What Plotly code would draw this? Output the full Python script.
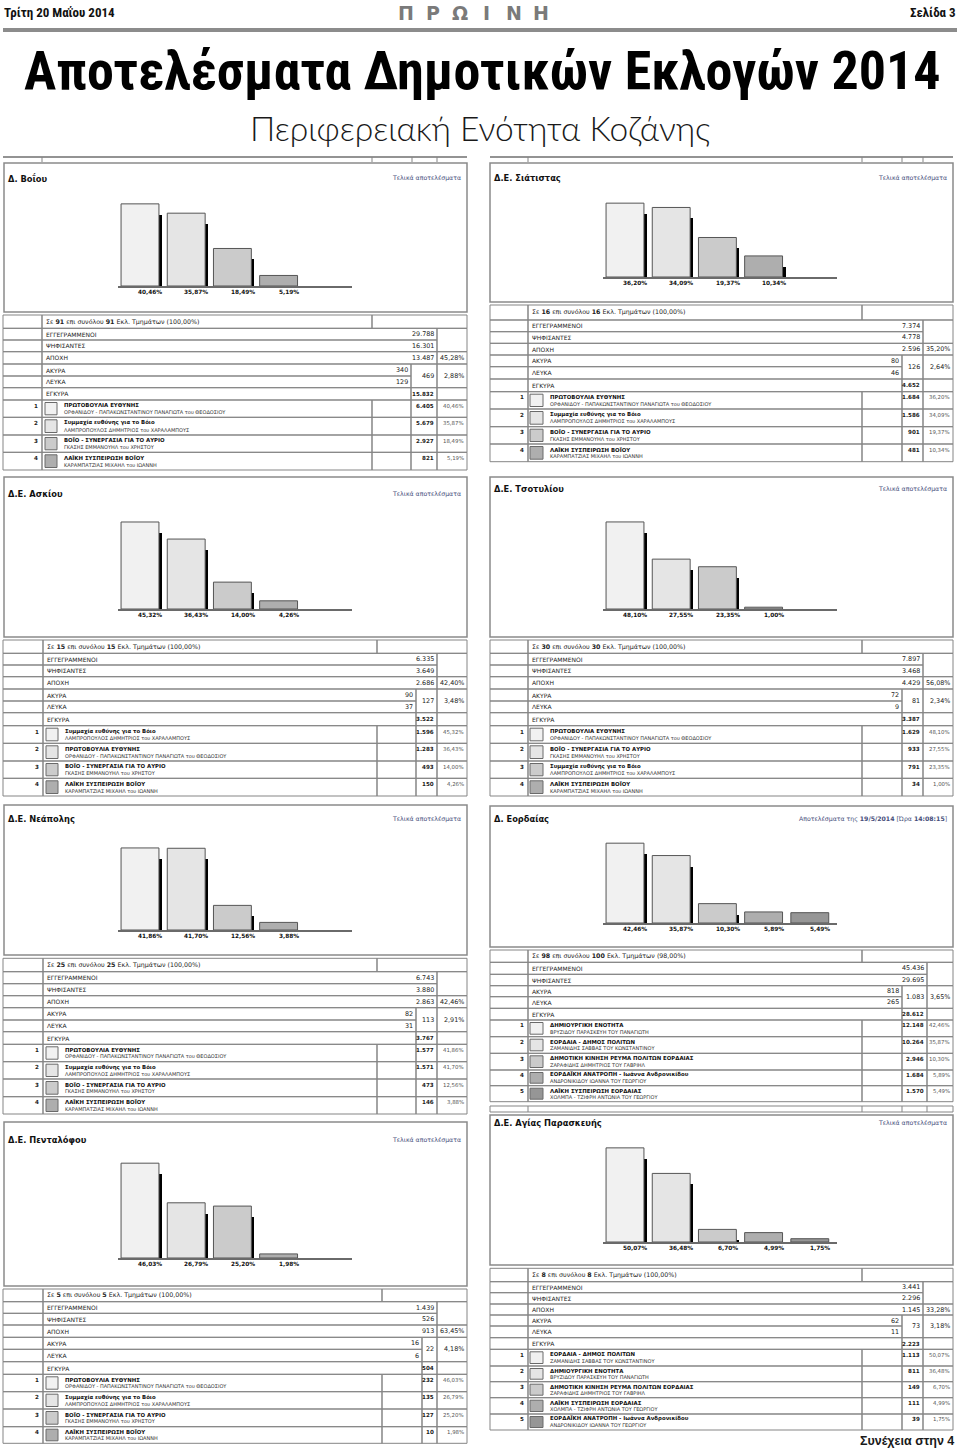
import plotly.graph_objects as go

W, H = 960, 1448

# ---------------- DATA ----------------
STAT_LABELS = ["ΕΓΓΕΓΡΑΜΜΕΝΟΙ", "ΨΗΦΙΣΑΝΤΕΣ", "ΑΠΟΧΗ", "ΑΚΥΡΑ", "ΛΕΥΚΑ", "ΕΓΚΥΡΑ"]

PROTO = "ΠΡΩΤΟΒΟΥΛΙΑ ΕΥΘΥΝΗΣ"
PROTO_C = "ΟΡΦΑΝΙΔΟΥ - ΠΑΠΑΚΩΝΣΤΑΝΤΙΝΟΥ ΠΑΝΑΓΙΩΤΑ του ΘΕΟΔΟΣΙΟΥ"
SYMM = "Συμμαχία ευθύνης για το Βόιο"
SYMM_C = "ΛΑΜΠΡΟΠΟΥΛΟΣ ΔΗΜΗΤΡΙΟΣ του ΧΑΡΑΛΑΜΠΟΥΣ"
SYNE = "ΒΟΪΟ - ΣΥΝΕΡΓΑΣΙΑ ΓΙΑ ΤΟ ΑΥΡΙΟ"
SYNE_C = "ΓΚΑΣΗΣ ΕΜΜΑΝΟΥΗΛ του ΧΡΗΣΤΟΥ"
LAIKI_V = "ΛΑΪΚΗ ΣΥΣΠΕΙΡΩΣΗ ΒΟΪΟΥ"
LAIKI_V_C = "ΚΑΡΑΜΠΑΤΖΙΑΣ ΜΙΧΑΗΛ του ΙΩΑΝΝΗ"
DIMI = "ΔΗΜΙΟΥΡΓΙΚΗ ΕΝΟΤΗΤΑ"
DIMI_C = "ΒΡΥΖΙΔΟΥ ΠΑΡΑΣΚΕΥΗ ΤΟΥ ΠΑΝΑΓΙΩΤΗ"
EORD = "ΕΟΡΔΑΙΑ - ΔΗΜΟΣ ΠΟΛΙΤΩΝ"
EORD_C = "ΖΑΜΑΝΙΔΗΣ ΣΑΒΒΑΣ ΤΟΥ ΚΩΝΣΤΑΝΤΙΝΟΥ"
REYMA = "ΔΗΜΟΤΙΚΗ ΚΙΝΗΣΗ ΡΕΥΜΑ ΠΟΛΙΤΩΝ ΕΟΡΔΑΙΑΣ"
REYMA_C = "ΖΑΡΑΦΙΔΗΣ ΔΗΜΗΤΡΙΟΣ ΤΟΥ ΓΑΒΡΙΗΛ"
ANAT = "ΕΟΡΔΑΪΚΗ ΑΝΑΤΡΟΠΗ - Ιωάννα Ανδρονικίδου"
ANAT_C = "ΑΝΔΡΟΝΙΚΙΔΟΥ ΙΩΑΝΝΑ ΤΟΥ ΓΕΩΡΓΙΟΥ"
LAIKI_E = "ΛΑΪΚΗ ΣΥΣΠΕΙΡΩΣΗ ΕΟΡΔΑΙΑΣ"
LAIKI_E_C = "ΧΟΛΜΠΑ - ΤΖΙΦΡΗ ΑΝΤΩΝΙΑ ΤΟΥ ΓΕΩΡΓΙΟΥ"

# stats: registered, voted, abstention, abstention %, invalid, blank, invalid+blank, inv+blank %, valid
VOIO_TITLE = "Δ. Βοΐου"
VOIO_SECT = [91, 91, 100.00]
VOIO_STATS = [29788, 16301, 13487, 45.28, 340, 129, 469, 2.88, 15832]
VOIO_PARTIES = [PROTO, SYMM, SYNE, LAIKI_V]
VOIO_CANDS = [PROTO_C, SYMM_C, SYNE_C, LAIKI_V_C]
VOIO_VOTES = [6405, 5679, 2927, 821]
VOIO_PCT = [40.46, 35.87, 18.49, 5.19]

SIAT_TITLE = "Δ.Ε. Σιάτιστας"
SIAT_SECT = [16, 16, 100.00]
SIAT_STATS = [7374, 4778, 2596, 35.20, 80, 46, 126, 2.64, 4652]
SIAT_PARTIES = [PROTO, SYMM, SYNE, LAIKI_V]
SIAT_CANDS = [PROTO_C, SYMM_C, SYNE_C, LAIKI_V_C]
SIAT_VOTES = [1684, 1586, 901, 481]
SIAT_PCT = [36.20, 34.09, 19.37, 10.34]

ASKI_TITLE = "Δ.Ε. Ασκίου"
ASKI_SECT = [15, 15, 100.00]
ASKI_STATS = [6335, 3649, 2686, 42.40, 90, 37, 127, 3.48, 3522]
ASKI_PARTIES = [SYMM, PROTO, SYNE, LAIKI_V]
ASKI_CANDS = [SYMM_C, PROTO_C, SYNE_C, LAIKI_V_C]
ASKI_VOTES = [1596, 1283, 493, 150]
ASKI_PCT = [45.32, 36.43, 14.00, 4.26]

TSOT_TITLE = "Δ.Ε. Τσοτυλίου"
TSOT_SECT = [30, 30, 100.00]
TSOT_STATS = [7897, 3468, 4429, 56.08, 72, 9, 81, 2.34, 3387]
TSOT_PARTIES = [PROTO, SYNE, SYMM, LAIKI_V]
TSOT_CANDS = [PROTO_C, SYNE_C, SYMM_C, LAIKI_V_C]
TSOT_VOTES = [1629, 933, 791, 34]
TSOT_PCT = [48.10, 27.55, 23.35, 1.00]

NEAP_TITLE = "Δ.Ε. Νεάπολης"
NEAP_SECT = [25, 25, 100.00]
NEAP_STATS = [6743, 3880, 2863, 42.46, 82, 31, 113, 2.91, 3767]
NEAP_PARTIES = [PROTO, SYMM, SYNE, LAIKI_V]
NEAP_CANDS = [PROTO_C, SYMM_C, SYNE_C, LAIKI_V_C]
NEAP_VOTES = [1577, 1571, 473, 146]
NEAP_PCT = [41.86, 41.70, 12.56, 3.88]

EORDA_TITLE = "Δ. Εορδαίας"
EORDA_SECT = [98, 100, 98.00]
EORDA_STATS = [45436, 29695, None, None, 818, 265, 1083, 3.65, 28612]
EORDA_PARTIES = [DIMI, EORD, REYMA, ANAT, LAIKI_E]
EORDA_CANDS = [DIMI_C, EORD_C, REYMA_C, ANAT_C, LAIKI_E_C]
EORDA_VOTES = [12148, 10264, 2946, 1684, 1570]
EORDA_PCT = [42.46, 35.87, 10.30, 5.89, 5.49]

PENT_TITLE = "Δ.Ε. Πενταλόφου"
PENT_SECT = [5, 5, 100.00]
PENT_STATS = [1439, 526, 913, 63.45, 16, 6, 22, 4.18, 504]
PENT_PARTIES = [PROTO, SYMM, SYNE, LAIKI_V]
PENT_CANDS = [PROTO_C, SYMM_C, SYNE_C, LAIKI_V_C]
PENT_VOTES = [232, 135, 127, 10]
PENT_PCT = [46.03, 26.79, 25.20, 1.98]

AGPA_TITLE = "Δ.Ε. Αγίας Παρασκευής"
AGPA_SECT = [8, 8, 100.00]
AGPA_STATS = [3441, 2296, 1145, 33.28, 62, 11, 73, 3.18, 2223]
AGPA_PARTIES = [EORD, DIMI, REYMA, LAIKI_E, ANAT]
AGPA_CANDS = [EORD_C, DIMI_C, REYMA_C, LAIKI_E_C, ANAT_C]
AGPA_VOTES = [1113, 811, 149, 111, 39]
AGPA_PCT = [50.07, 36.48, 6.70, 4.99, 1.75]

FINAL = "Τελικά αποτελέσματα"
EORDA_STAMP = "Αποτελέσματα της <b>19/5/2014</b> [Ώρα <b>14:08:15</b>]"

# ---------------- STYLE / LAYOUT ----------------
RANK_COLORS = ["#f1f1f1", "#e5e5e5", "#cbcbcb", "#aeaeae", "#969696"]
TF = "DejaVu Sans"
NARROW = "Liberation Sans Narrow, Roboto Condensed, Liberation Sans, sans-serif"
GRID = "#858585"
SLOT = 46.2

LCOLS = dict(box=(4, 467), c0=140)
RCOLS = dict(box=(490, 953), c0=625)

PANELS = [
    dict(side=LCOLS, title=VOIO_TITLE, right=FINAL, sect=VOIO_SECT, stats=VOIO_STATS, parties=VOIO_PARTIES,
         cands=VOIO_CANDS, votes=VOIO_VOTES, pct=VOIO_PCT, box=(163, 312), title_y=178, yb=286, k=2.03,
         cols=[3, 42, 372, 411, 437, 467],
         rows=[315, 328.3, 340, 351.7, 364, 376, 387.7, 400, 417.3, 435, 452.3, 470]),
    dict(side=RCOLS, title=SIAT_TITLE, right=FINAL, sect=SIAT_SECT, stats=SIAT_STATS, parties=SIAT_PARTIES,
         cands=SIAT_CANDS, votes=SIAT_VOTES, pct=SIAT_PCT, box=(163, 302), title_y=178, yb=277, k=2.04,
         cols=[490, 528, 862, 902, 923, 953],
         rows=[305, 320, 331.7, 343.3, 355, 366.7, 379, 391.7, 409, 426.7, 444, 461.7]),
    dict(side=LCOLS, title=ASKI_TITLE, right=FINAL, sect=ASKI_SECT, stats=ASKI_STATS, parties=ASKI_PARTIES,
         cands=ASKI_CANDS, votes=ASKI_VOTES, pct=ASKI_PCT, box=(477, 637), title_y=494, yb=609, k=1.92,
         cols=[3, 43, 377, 416, 437, 467],
         rows=[640, 653.3, 665, 676.7, 689, 701, 712.7, 725.7, 743.3, 761, 778.3, 796]),
    dict(side=RCOLS, title=TSOT_TITLE, right=FINAL, sect=TSOT_SECT, stats=TSOT_STATS, parties=TSOT_PARTIES,
         cands=TSOT_CANDS, votes=TSOT_VOTES, pct=TSOT_PCT, box=(477, 637), title_y=489, yb=609, k=1.81,
         cols=[490, 528, 862, 902, 923, 953],
         rows=[640, 653.3, 665, 676.7, 689, 701, 712.7, 725.7, 743.3, 761, 778.3, 796]),
    dict(side=LCOLS, title=NEAP_TITLE, right=FINAL, sect=NEAP_SECT, stats=NEAP_STATS, parties=NEAP_PARTIES,
         cands=NEAP_CANDS, votes=NEAP_VOTES, pct=NEAP_PCT, box=(805, 955), title_y=819, yb=930, k=1.96,
         cols=[3, 43, 377, 416, 437, 467],
         rows=[958.3, 971.7, 983.7, 995.7, 1007.7, 1020, 1031.7, 1044.3, 1061.7, 1079, 1096.7, 1114]),
    dict(side=RCOLS, title=EORDA_TITLE, right=EORDA_STAMP, sect=EORDA_SECT, stats=EORDA_STATS,
         parties=EORDA_PARTIES, cands=EORDA_CANDS, votes=EORDA_VOTES, pct=EORDA_PCT, box=(806, 947),
         title_y=819, yb=923, k=1.88, cols=[490, 528, 862, 902, 927, 953],
         rows=[950, 962.3, 974.3, 985.7, 996.7, 1008.3, 1020, 1036.7, 1053.3, 1070, 1085.7, 1101.7]),
    dict(side=LCOLS, title=PENT_TITLE, right=FINAL, sect=PENT_SECT, stats=PENT_STATS, parties=PENT_PARTIES,
         cands=PENT_CANDS, votes=PENT_VOTES, pct=PENT_PCT, box=(1122, 1286), title_y=1140, yb=1258, k=2.06,
         cols=[3, 43, 382, 422, 437, 467],
         rows=[1289, 1301.7, 1313.3, 1325, 1337.3, 1349.3, 1361.7, 1374.3, 1391.7, 1409, 1426.7, 1443.3]),
    dict(side=RCOLS, title=AGPA_TITLE, right=FINAL, sect=AGPA_SECT, stats=AGPA_STATS, parties=AGPA_PARTIES,
         cands=AGPA_CANDS, votes=AGPA_VOTES, pct=AGPA_PCT, box=(1115, 1265), title_y=1123, yb=1242, k=1.88,
         cols=[490, 528, 862, 902, 923, 953],
         rows=[1268.3, 1281.7, 1292.7, 1304, 1315, 1326, 1337.7, 1349.3, 1366, 1381.7, 1397.7, 1414, 1430]),
]


def X(px):
    return px / W


def Y(py):
    return 1 - py / H


def fint(n):
    return f"{n:,}".replace(",", ".")


def fpct(p):
    return f"{p:.2f}".replace(".", ",") + "%"


shapes = []
annotations = []


def rect(x0, y0, x1, y1, line=GRID, width=1, fill="rgba(0,0,0,0)"):
    shapes.append(dict(type="rect", xref="paper", yref="paper", x0=X(x0), x1=X(x1), y0=Y(y1), y1=Y(y0),
                       line=dict(color=line, width=width), fillcolor=fill, layer="above"))


def hline(x0, x1, y, color=GRID, width=1):
    shapes.append(dict(type="line", xref="paper", yref="paper", x0=X(x0), x1=X(x1), y0=Y(y), y1=Y(y),
                       line=dict(color=color, width=width), layer="above"))


def vline(x, y0, y1, color=GRID, width=1):
    shapes.append(dict(type="line", xref="paper", yref="paper", x0=X(x), x1=X(x), y0=Y(y0), y1=Y(y1),
                       line=dict(color=color, width=width), layer="above"))


def text(x, y, s, size=6.2, color="#222", anchor="left", family=TF, weight=None, yanchor="middle"):
    f = dict(size=size, color=color, family=family)
    if weight:
        f["weight"] = weight
    annotations.append(dict(xref="paper", yref="paper", x=X(x), y=Y(y), text=s, showarrow=False,
                            xanchor=anchor, yanchor=yanchor, font=f, borderpad=0))


def draw_table(p):
    c0, c1, c2, c3, c4, c5 = p["cols"]
    r = p["rows"]
    st = p["stats"]
    has_abst = st[2] is not None
    mid = lambda i: (r[i] + r[i + 1]) / 2
    rect(c0, r[0], c1, r[1]); rect(c1, r[0], c2, r[1]); rect(c2, r[0], c5, r[1])
    s = p["sect"]
    text(c1 + 3, mid(0), f"Σε <b>{s[0]}</b> επι συνόλου <b>{s[1]}</b> Εκλ. Τμημάτων ({fpct(s[2])})", 6.3)
    i = 1
    for lab, val in [(STAT_LABELS[0], st[0]), (STAT_LABELS[1], st[1])]:
        rect(c0, r[i], c1, r[i + 1]); rect(c1, r[i], c4, r[i + 1])
        text(c1 + 3, mid(i), lab, 6.0)
        text(c4 - 2, mid(i), fint(val), 6.4, anchor="right")
        i += 1
    rect(c4, r[i - 2], c5, r[i])
    if has_abst:
        rect(c0, r[i], c1, r[i + 1]); rect(c1, r[i], c4, r[i + 1]); rect(c4, r[i], c5, r[i + 1])
        text(c1 + 3, mid(i), STAT_LABELS[2], 6.0)
        text(c4 - 2, mid(i), fint(st[2]), 6.4, anchor="right")
        text(c5 - 2, mid(i), fpct(st[3]), 6.4, anchor="right")
        i += 1
    for lab, val in [(STAT_LABELS[3], st[4]), (STAT_LABELS[4], st[5])]:
        rect(c0, r[i], c1, r[i + 1]); rect(c1, r[i], c3, r[i + 1])
        text(c1 + 3, mid(i), lab, 6.0)
        text(c3 - 2, mid(i), fint(val), 6.4, anchor="right")
        i += 1
    rect(c3, r[i - 2], c4, r[i]); rect(c4, r[i - 2], c5, r[i])
    text(c4 - 2, r[i - 1], fint(st[6]), 6.4, anchor="right")
    text(c5 - 2, r[i - 1], fpct(st[7]), 6.4, anchor="right")
    rect(c0, r[i], c1, r[i + 1]); rect(c1, r[i], c3, r[i + 1]); rect(c3, r[i], c4, r[i + 1]); rect(c4, r[i], c5, r[i + 1])
    text(c1 + 3, mid(i), STAT_LABELS[5], 6.0)
    text(c4 - 2, mid(i), fint(st[8]), 5.6, anchor="right", weight="bold")
    i += 1
    sw0 = 3 if c0 < 100 else 2
    for j, (name, cand, v, pc) in enumerate(zip(p["parties"], p["cands"], p["votes"], p["pct"])):
        y0, y1 = r[i], r[i + 1]
        rect(c0, y0, c1, y1); rect(c1, y0, c2, y1); rect(c2, y0, c3, y1); rect(c3, y0, c4, y1); rect(c4, y0, c5, y1)
        text(c1 - 3, (y0 + y1) / 2 - 3, str(j + 1), 5.6, anchor="right", weight="bold")
        rect(c1 + sw0, y0 + 2.5, c1 + 15, y1 - 2.5, line="#6a6a6a", fill=RANK_COLORS[j])
        text(c1 + 21, (y0 + y1) / 2 - 3.2, f"<b>{name}</b>", 5.4, color="#111")
        text(c1 + 21, (y0 + y1) / 2 + 3.4, cand, 5.0, color="#333")
        text(c4 - 2, (y0 + y1) / 2 - 3, fint(v), 5.6, anchor="right", weight="bold")
        text(c5 - 2, (y0 + y1) / 2 - 3, fpct(pc), 5.4, color="#555", anchor="right")
        i += 1


fig = go.Figure()
layout_axes = {}

for n, p in enumerate(PANELS):
    ax = n + 1
    xname = "x" if ax == 1 else f"x{ax}"
    yname = "y" if ax == 1 else f"y{ax}"
    c0 = p["side"]["c0"]
    bx0, bx1 = p["side"]["box"]
    rect(bx0, p["box"][0], bx1, p["box"][1], line="#8a8a8a", width=1.5)
    text(bx0 + 3, p["title_y"], f"<b>{p['title']}</b>", 8.3, color="#111")
    text(bx1 - 5, p["title_y"], p["right"], 6.2, color="#454d7a", anchor="right")
    draw_table(p)

    vals = p["pct"]
    cnt = len(vals)
    k = p["k"]
    shadow_drop = 11 / k
    fig.add_trace(go.Bar(x=list(range(cnt)), y=[max(v - shadow_drop, 0) for v in vals], width=0.065, offset=0.41,
                         marker=dict(color="#000", line=dict(width=0)), xaxis=xname, yaxis=yname,
                         hoverinfo="skip", showlegend=False))
    fig.add_trace(go.Bar(x=list(range(cnt)), y=vals, width=0.82, offset=-0.41,
                         marker=dict(color=RANK_COLORS[:cnt], line=dict(color="#555", width=1)),
                         xaxis=xname, yaxis=yname, showlegend=False))
    for j, v in enumerate(vals):
        annotations.append(dict(xref=xname, yref=yname, x=j + 0.22, y=0, text=f"<b>{fpct(v)}</b>",
                                showarrow=False, xanchor="center", yanchor="top", yshift=-1,
                                font=dict(size=5.8, color="#111", family=TF)))
    hpx = 108
    layout_axes["xaxis" if ax == 1 else f"xaxis{ax}"] = dict(
        domain=[X(c0 - 0.47 * SLOT), X(c0 + 4.58 * SLOT)], range=[-0.47, 4.58], showgrid=False, zeroline=False,
        showticklabels=False, ticks="", showline=True, linecolor="#6a6a6a", linewidth=2, anchor=yname,
        fixedrange=True)
    layout_axes["yaxis" if ax == 1 else f"yaxis{ax}"] = dict(
        domain=[Y(p["yb"]), Y(p["yb"] - hpx)], range=[0, hpx / k], visible=False, anchor=xname, fixedrange=True)

# strips (remnants of adjacent tables)
for xs in ([3, 42, 372, 412, 437, 467], [490, 528, 862, 902, 923, 953]):
    hline(xs[0], xs[-1], 157, color="#6f6f6f", width=1.5)
    for xv in xs[1:-1]:
        vline(xv, 157, 162)
xs = [490, 528, 862, 902, 927, 953]
rect(xs[0], 1106, xs[-1], 1112)
for xv in xs[1:-1]:
    vline(xv, 1106, 1112)

# header
text(3, 12, "<b>Τρίτη 20 Μαΐου 2014</b>", 13, color="#111", family=NARROW)
text(957, 12, "<b>Σελίδα 3</b>", 13, color="#111", family=NARROW, anchor="right")
for i, ch in enumerate("ΠΡΩΙΝΗ"):
    text(392 + 13.5 + 27 * i, 13, f"<b>{ch}</b>", 19, color="#7a7a7a", anchor="center")
hline(3, 957, 30, color="#8c8c8c", width=4)
text(482, 70, "<b>Αποτελέσματα Δημοτικών Εκλογών 2014</b>", 54, color="#000", family=NARROW, anchor="center")
text(480, 128, "Περιφερειακή Ενότητα Κοζάνης", 33.5, color="#1a1a1a", family="Lato", anchor="center", weight=300)
text(955, 1441, "Συνέχεια στην 4", 12.5, color="#1a1a1a", family="Liberation Sans", anchor="right", weight="bold")

fig.update_layout(width=W, height=H, margin=dict(l=0, r=0, t=0, b=0), autosize=False,
                  paper_bgcolor="white", plot_bgcolor="rgba(0,0,0,0)", barmode="overlay", bargap=0,
                  shapes=shapes, annotations=annotations, showlegend=False, **layout_axes)

fig.write_html("out.html", config=dict(displayModeBar=False, staticPlot=True))
